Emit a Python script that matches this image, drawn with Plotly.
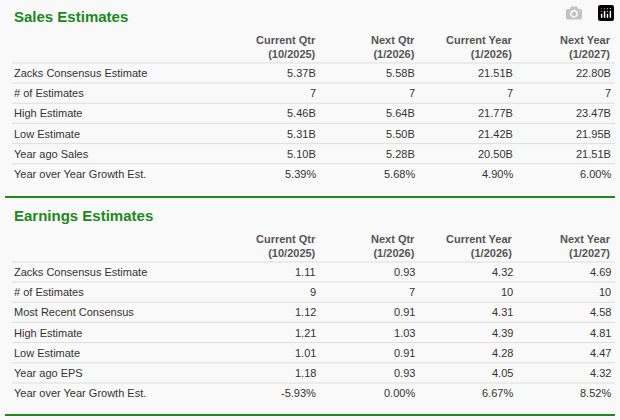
import plotly.graph_objects as go

columns = ["Current Qtr<br>(10/2025)", "Next Qtr<br>(1/2026)",
           "Current Year<br>(1/2026)", "Next Year<br>(1/2027)"]

sales_rows = ["Zacks Consensus Estimate", "# of Estimates", "High Estimate",
              "Low Estimate", "Year ago Sales", "Year over Year Growth Est."]
sales_values = [
    ["5.37B", "5.58B", "21.51B", "22.80B"],
    ["7", "7", "7", "7"],
    ["5.46B", "5.64B", "21.77B", "23.47B"],
    ["5.31B", "5.50B", "21.42B", "21.95B"],
    ["5.10B", "5.28B", "20.50B", "21.51B"],
    ["5.39%", "5.68%", "4.90%", "6.00%"],
]

eps_rows = ["Zacks Consensus Estimate", "# of Estimates", "Most Recent Consensus",
            "High Estimate", "Low Estimate", "Year ago EPS", "Year over Year Growth Est."]
eps_values = [
    ["1.11", "0.93", "4.32", "4.69"],
    ["9", "7", "10", "10"],
    ["1.12", "0.91", "4.31", "4.58"],
    ["1.21", "1.03", "4.39", "4.81"],
    ["1.01", "0.91", "4.28", "4.47"],
    ["1.18", "0.93", "4.05", "4.32"],
    ["-5.93%", "0.00%", "6.67%", "8.52%"],
]

GREEN = "#1a8a1a"
TEXT = "#333333"
COL_X = [318, 417, 515, 613]
FONT = "Liberation Sans, Arial, sans-serif"

fig = go.Figure()
ann, shapes = [], []


def add_section(title, top, rows, values):
    ann.append(dict(x=12, y=top, text=f"<b>{title}</b>", xanchor="left", yanchor="middle",
                    font=dict(size=15, color=GREEN)))
    for cx, col in zip(COL_X, columns):
        ann.append(dict(x=cx, y=top + 31, text=f"<b>{col}</b>", xanchor="right",
                        yanchor="middle", align="right", font=dict(size=11, color="#555555")))
    y0 = top + 47
    shapes.append(dict(type="line", x0=12, x1=615, y0=y0, y1=y0, line=dict(color="#dddddd", width=1)))
    for i, (label, vals) in enumerate(zip(rows, values)):
        yc = y0 + 10 + i * 20.2
        ann.append(dict(x=12, y=yc, text=label, xanchor="left", yanchor="middle",
                        font=dict(size=11, color=TEXT)))
        for cx, v in zip(COL_X, vals):
            ann.append(dict(x=cx, y=yc, text=v, xanchor="right", yanchor="middle",
                            font=dict(size=11, color=TEXT)))
        if i < len(rows) - 1:
            ysep = yc + 10
            shapes.append(dict(type="line", x0=12, x1=615, y0=ysep, y1=ysep,
                               line=dict(color="#dddddd", width=1)))


add_section("Sales Estimates", 16, sales_rows, sales_values)
shapes.append(dict(type="line", x0=5, x1=615, y0=197, y1=197, line=dict(color=GREEN, width=2)))
add_section("Earnings Estimates", 215, eps_rows, eps_values)
shapes.append(dict(type="line", x0=5, x1=615, y0=415, y1=415, line=dict(color=GREEN, width=2)))

fig.update_layout(
    width=620, height=420,
    margin=dict(l=0, r=0, t=0, b=0),
    paper_bgcolor="#f9f9f9", plot_bgcolor="#f9f9f9",
    font=dict(family=FONT),
    xaxis=dict(range=[0, 620], visible=False, fixedrange=True),
    yaxis=dict(range=[420, 0], visible=False, fixedrange=True),
    annotations=[dict(a, xref="x", yref="y", showarrow=False) for a in ann],
    shapes=[dict(s, xref="x", yref="y") for s in shapes],
    showlegend=False,
)

# drop the browser's default body margin so the 620x420 figure fills the window
fig.write_html("out.html", post_script="document.body.style.margin='0';"
               "document.body.style.overflow='hidden';")
